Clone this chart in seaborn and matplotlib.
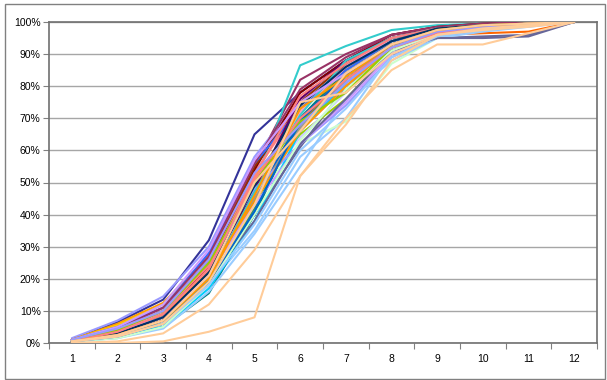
import pandas as pd
import matplotlib.pyplot as plt
import matplotlib.patches as mpatches
from matplotlib.ticker import FixedLocator, FuncFormatter
import seaborn as sns

# Periods on the category axis
periods = list(range(1, 13))

# Cumulative share (%) per series
s01 = [1, 6.5, 13.5, 32, 65, 78, 88, 95, 98, 99, 99.5, 100]
s02 = [1, 4, 9, 25, 55, 82, 90, 96, 98.5, 99, 99.5, 100]
s03 = [0.5, 3, 8, 22, 50, 86.5, 92.5, 97.5, 99, 99.5, 100, 100]
s04 = [1.5, 7, 14.5, 30, 58, 76, 86, 94, 97, 98, 99, 100]
s05 = [1, 6, 12.5, 27, 52, 70, 84, 93, 97, 99, 99.5, 100]
s08 = [0.5, 2, 5, 18, 35, 58, 70, 90, 96, 98, 99, 100]
s09 = [0.5, 1.5, 6, 20, 45, 62, 69, 87, 95, 97.5, 99, 100]
s10 = [0.5, 2, 6, 20, 40, 61, 80, 90, 95, 95.5, 96, 100]
s11 = [1, 5, 11, 25, 48, 68, 84, 93, 96, 96.5, 97, 100]
s12 = [0.5, 3, 9, 22, 46, 65, 76, 91, 97, 98.5, 99.5, 100]
s13 = [0.5, 2, 5, 15.5, 40, 70, 85, 94, 98, 99, 99.5, 100]
s14 = [1, 4.5, 10, 26, 53, 74, 86, 95, 98, 99, 99.5, 100]
s15 = [1, 5, 11, 24, 47, 66, 80, 92, 96.5, 98, 99, 100]
s16 = [0.5, 2.5, 7, 21, 44, 70, 83, 94, 97.5, 99, 99.5, 100]
s17 = [0.5, 3, 8, 19, 42, 68, 82, 93, 97, 98, 99, 100]
s18 = [1, 5.5, 12, 27, 51, 72, 85, 94, 98, 99, 99.5, 100]
s19 = [1, 4, 9, 23, 46, 64, 78, 91, 96, 98, 99, 100]
s20 = [0.5, 3.5, 8, 24, 54, 78, 88, 96, 98.5, 99.5, 100, 100]
s21 = [1, 4, 10, 26, 55, 75, 87, 95, 98, 99, 99.5, 100]
s22 = [1, 5, 11, 28, 56, 73, 85, 94, 97.5, 99, 99.5, 100]
s23 = [0.5, 3, 8, 23, 50, 72, 86, 95, 98, 99, 99.5, 100]
s24 = [0.5, 3, 8, 22, 48, 76, 88, 95, 98, 99, 99.5, 100]
s25 = [0.5, 2, 5, 17, 38, 66, 81, 92, 97, 98.5, 99.5, 100]
s26 = [0.5, 3, 9, 22, 45, 67, 82, 93, 97, 98.5, 99, 100]
s28 = [0.5, 1.5, 4.5, 16, 34, 55, 76, 88, 95, 97, 98.5, 100]
s29 = [1, 4, 10, 25, 48, 62, 74, 89, 96, 98, 99, 100]
s30 = [1, 4.5, 11, 27, 56, 79, 89, 96, 98.5, 99.5, 100, 100]
s31 = [0.5, 2.5, 6, 20, 47, 71, 88, 95, 98, 99, 99.5, 100]
s32 = [0.5, 3, 9, 22, 44, 66, 80, 92, 97, 98.5, 99.5, 100]
s33 = [1, 3.5, 8, 21, 43, 62, 75, 90, 96, 98, 99, 100]
s34 = [0.5, 2, 7, 20, 38, 62, 76, 91, 95, 95, 95.5, 100]
s35 = [1, 4, 10, 24, 52, 77, 87, 95, 98, 99, 99.5, 100]
s36 = [0.5, 3, 8, 22, 49, 74, 86, 94, 98, 99, 99.5, 100]
s37 = [0.5, 1.5, 5, 18, 40, 63, 79, 91, 96.5, 98.5, 99.5, 100]
s38 = [0.5, 2, 6, 19, 41, 69, 84, 93, 97, 98.5, 99.5, 100]
s39 = [1, 4, 10, 25, 50, 69, 78, 92, 97, 98.5, 99.5, 100]
s41 = [1, 5, 12, 29, 57, 75, 84, 93, 97, 98.5, 99.5, 100]
s42 = [0.5, 3.5, 9, 23, 51, 70, 82, 92, 96.5, 98, 99, 100]
s43 = [1, 4.5, 10, 26, 53, 68, 81, 92, 97, 98.5, 99.5, 100]
s44 = [0.5, 2.5, 7, 20, 46, 73, 83, 93, 97.5, 99, 99.5, 100]
s45 = [0.5, 2, 6, 18, 37, 60, 73, 89, 95.5, 97.5, 99, 100]
s27 = [0.5, 2, 6, 19, 43, 75, 78, 90, 96, 98, 99, 100]
s40 = [0.5, 2.5, 7, 21, 50, 66, 84, 93, 97.5, 99, 99.5, 100]
s07 = [0, 0.5, 3, 12, 29, 52, 68, 88, 96, 97.5, 98.5, 100]
s06 = [0, 0, 0.5, 3.5, 8, 52, 70, 85, 93, 93, 96.5, 100]

series = {
    "s01": s01, "s02": s02, "s03": s03, "s04": s04, "s05": s05,
    "s08": s08, "s09": s09, "s10": s10, "s11": s11, "s12": s12,
    "s13": s13, "s14": s14, "s15": s15, "s16": s16, "s17": s17,
    "s18": s18, "s19": s19, "s20": s20, "s21": s21, "s22": s22,
    "s23": s23, "s24": s24, "s25": s25, "s26": s26, "s28": s28,
    "s29": s29, "s30": s30, "s31": s31, "s32": s32, "s33": s33,
    "s34": s34, "s35": s35, "s36": s36, "s37": s37, "s38": s38,
    "s39": s39, "s41": s41, "s42": s42, "s43": s43, "s44": s44,
    "s45": s45, "s27": s27, "s40": s40, "s07": s07, "s06": s06,
}

colors = [
    "#333399", "#993366", "#33CCCC", "#9999FF", "#FF9900",
    "#99CCFF", "#CCFFCC", "#666699", "#FF6600", "#99CC00",
    "#008080", "#FF8080", "#CC99FF", "#0066CC", "#339966",
    "#FFCC00", "#CCCCFF", "#800000", "#993300", "#3366FF",
    "#FF99CC", "#660066", "#00CCFF", "#969696", "#99CCFF",
    "#9999FF", "#993366", "#33CCCC", "#FF9900", "#CC99FF",
    "#666699", "#FF8080", "#003366", "#CCFFCC", "#0066CC",
    "#99CC00", "#CC99FF", "#FF8080", "#9999FF", "#FF9900",
    "#99CCFF", "#FFCC99", "#FFCC99", "#FFCC99", "#FFCC99",
]

df = pd.DataFrame(
    [(name, p, v) for name, vals in series.items() for p, v in zip(periods, vals)],
    columns=["series", "period", "pct"],
)

sns.set_style("white")
plt.rcParams["font.family"] = ["Liberation Sans", "DejaVu Sans"]

fig = plt.figure(figsize=(6.07, 3.80), dpi=100)
ax = fig.add_axes([49 / 607, 1 - 343 / 380, 548 / 607, 321 / 380])

sns.lineplot(data=df, x="period", y="pct", hue="series", palette=colors,
             legend=False, linewidth=1.5, ax=ax, sort=False, zorder=3)

ax.set_xlim(0.5, 12.5)
ax.set_ylim(0, 100)
ax.set_xticks(periods)
ax.xaxis.set_minor_locator(FixedLocator([i + 0.5 for i in range(0, 13)]))
ax.set_yticks(range(0, 101, 10))
ax.yaxis.set_major_formatter(FuncFormatter(lambda v, _: f"{v:.0f}%"))
ax.tick_params(axis="x", which="major", length=0, pad=8, labelsize=7.5, colors="black")
ax.tick_params(axis="x", which="minor", length=4, width=0.8, color="#808080", direction="out", bottom=True)
ax.tick_params(axis="y", length=4, width=0.8, color="#808080", direction="out", left=True,
               pad=2, labelsize=7.5, labelcolor="black")
ax.set_xlabel("")
ax.set_ylabel("")
ax.grid(axis="y", color="#A6A6A6", linewidth=1.0, zorder=0)
ax.set_axisbelow(True)
for sp in ax.spines.values():
    sp.set_visible(True)
    sp.set_color("#707070")
    sp.set_linewidth(1.2)

# outer chart frame
fig.patches.append(mpatches.Rectangle((5 / 607, 1 / 380), 600 / 607, 375 / 380,
                                      transform=fig.transFigure, fill=False,
                                      edgecolor="#808080", linewidth=1.0))

fig.savefig("out.png", dpi=100)
